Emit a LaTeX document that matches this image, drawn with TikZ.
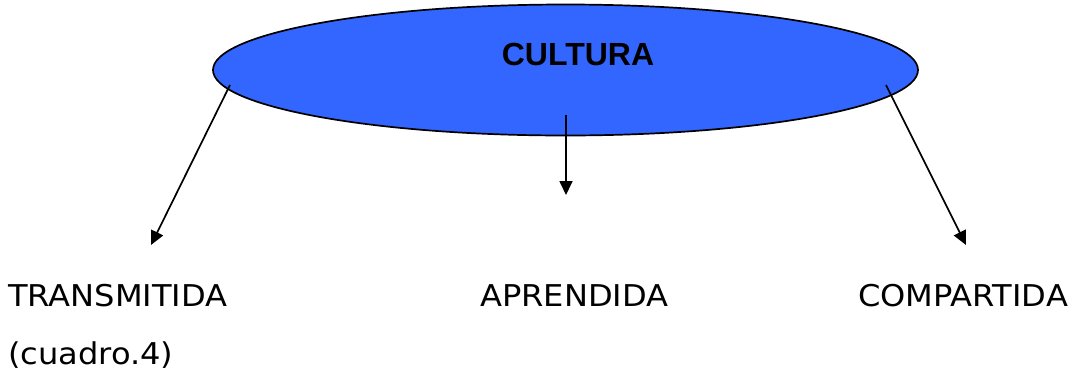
\documentclass[tikz,border=0pt]{standalone}
\usepackage{fontspec}
\setmainfont{DejaVu Sans}
\newfontfamily\titlefont{Liberation Sans}
\newfontfamily\labelfont[FakeStretch=1.07]{DejaVu Sans}
\usetikzlibrary{arrows.meta}
\usetikzlibrary{shapes.geometric,positioning}

\definecolor{culturablue}{RGB}{51,102,255}

\tikzset{
  concepto/.style={ellipse,draw=black,line width=1.7pt,fill=culturablue,
    minimum width=705pt,minimum height=131pt,inner sep=0pt},
  titulo/.style={anchor=base,inner sep=0pt,
    font=\titlefont\bfseries\fontsize{32}{38}\selectfont},
  rama/.style={anchor=base west,inner sep=0pt,
    font=\labelfont\fontsize{30}{36}\selectfont},
  flecha/.style={line width=1.7pt,-{Triangle[length=14pt,width=13pt]}}
}

\begin{document}
\begin{tikzpicture}[x=1pt,y=-1pt]
\useasboundingbox (0,0) rectangle (1079,373);

\node[concepto] (cultura) at (565.5,70) {};
\node[titulo] (nombre) at (578,65) {CULTURA};

\node[rama] (transmitida) at (8,306) {TRANSMITIDA};
\node[rama] (cuadro) at (8,364) {(cuadro.4)};
\node[rama] (aprendida) at (480,306) {APRENDIDA};
\node[rama] (compartida) at (858,306) {COMPARTIDA};

% puntos de salida y llegada
\coordinate (izq) at (230,85);
\coordinate (cen) at (566,115);
\coordinate (der) at (886,85);
\coordinate (izqfin) at (151,245);
\coordinate (cenfin) at (566,195);
\coordinate (derfin) at (966,245);

\draw[flecha] (izq) -- (izqfin);
\draw[flecha] (cen) -- (cenfin);
\draw[flecha] (der) -- (derfin);

\end{tikzpicture}
\end{document}
